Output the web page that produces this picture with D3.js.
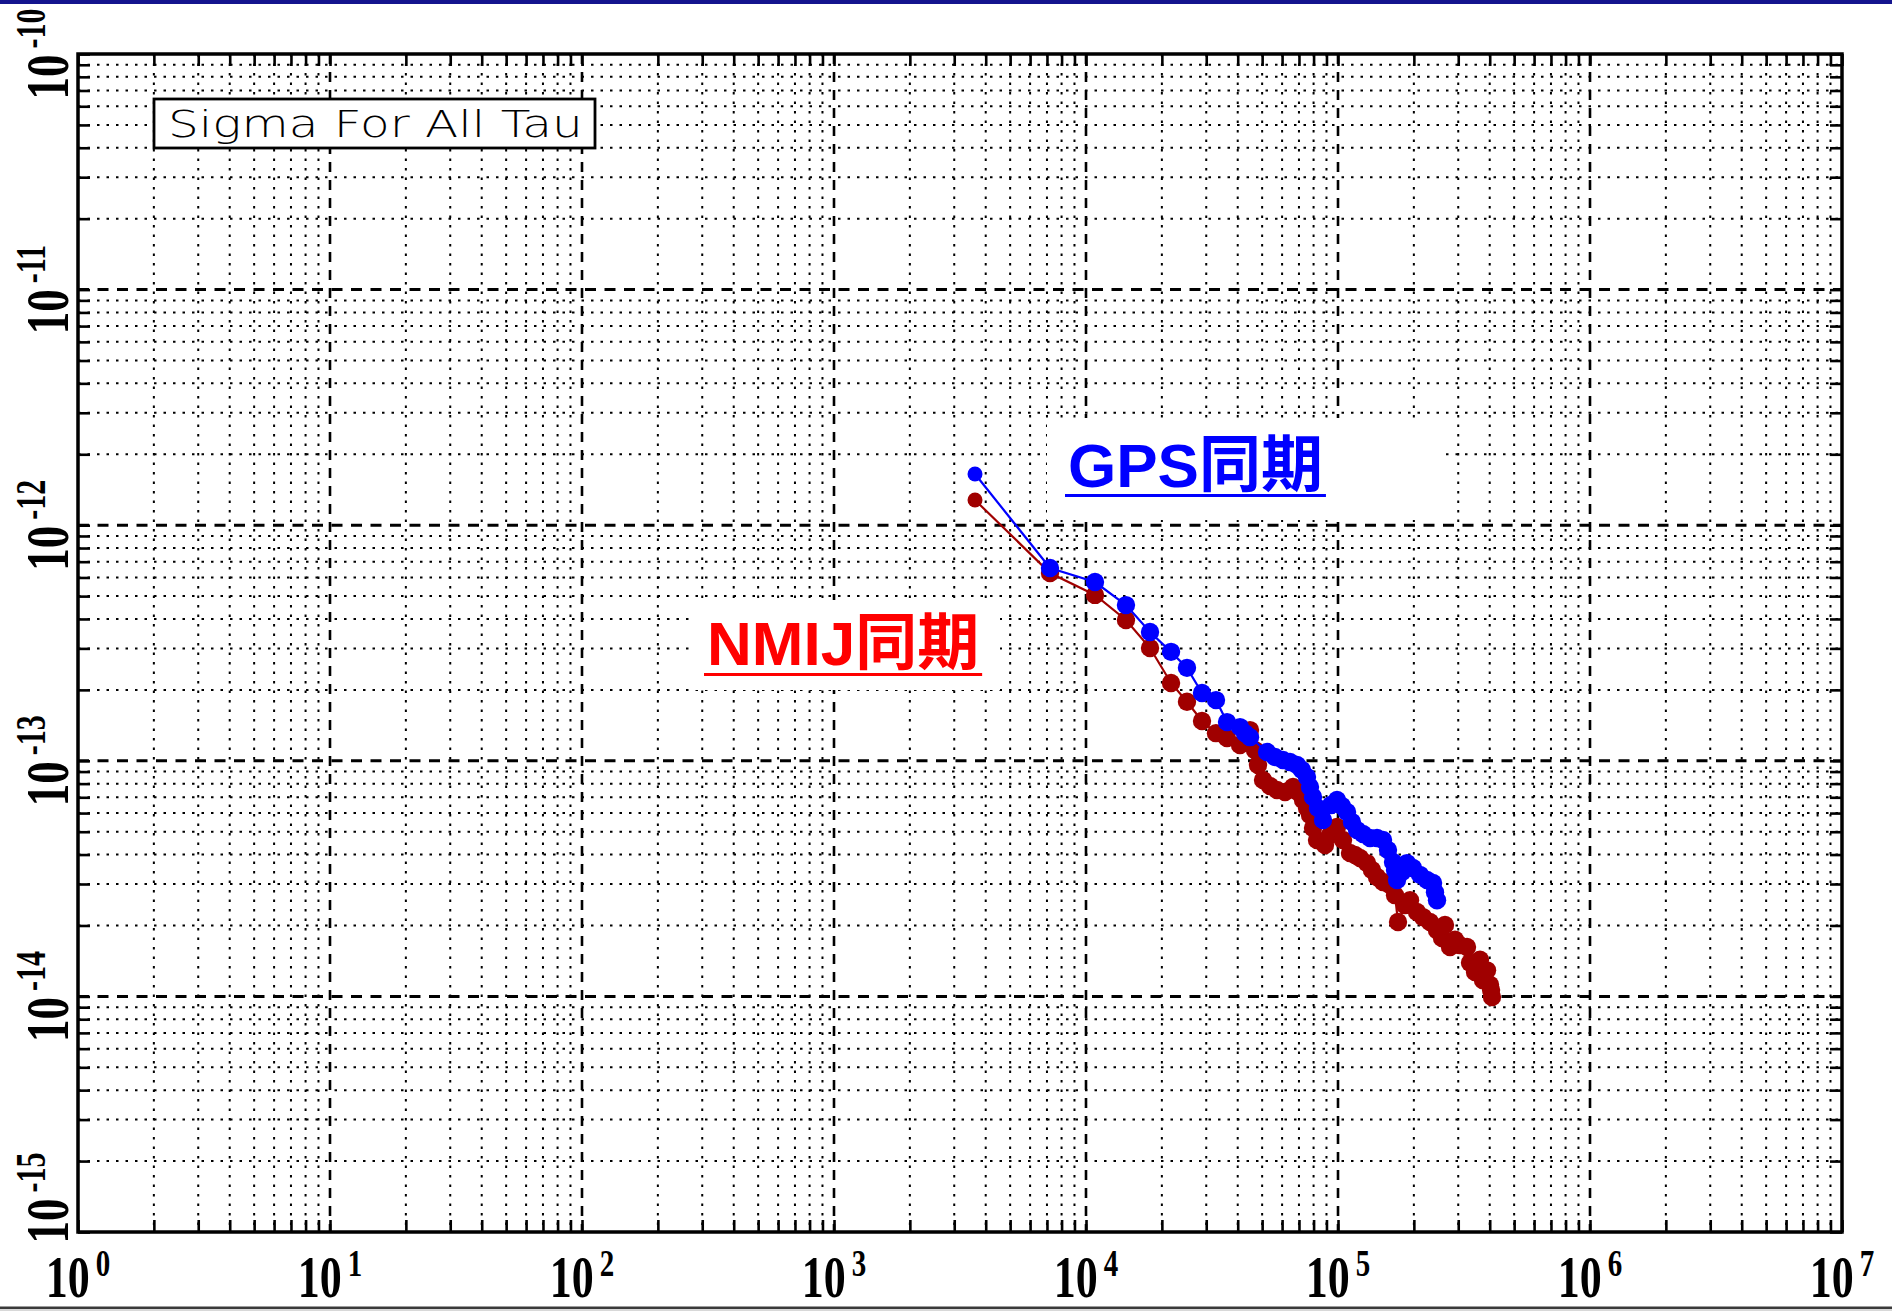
<!DOCTYPE html>
<html><head><meta charset="utf-8">
<script src="https://cdn.jsdelivr.net/npm/d3@7"></script>
<style>html,body{margin:0;padding:0;background:#fff;overflow:hidden} svg{display:block}</style>
</head><body><svg id="c" width="1892" height="1311"></svg>
<script>
// ---------------- data ----------------
const tauDecades = [0, 1, 2, 3, 4, 5, 6, 7];
const sigmaDecades = [-15, -14, -13, -12, -11, -10];
const minorMultipliers = [2, 3, 4, 5, 6, 7, 8, 9];

const gpsTau = [3627, 7197, 10857, 14408, 17950, 21750, 25160, 28860, 32800, 36270,
  40840, 42760, 44750, 52290, 56230, 60500, 64480, 68770, 71970, 75340,
  77430, 79590, 83280, 87200, 93800, 99100, 103700, 108600, 113600, 119000,
  125700, 134000, 142800, 150900, 157900, 165300, 168400, 171500, 179500, 187800,
  198500, 211500, 225500, 238300, 242600, 247100];
const gpsSigma = [1.65e-12, 6.58e-13, 5.74e-13, 4.58e-13, 3.52e-13, 2.90e-13, 2.48e-13, 1.94e-13, 1.81e-13, 1.46e-13,
  1.39e-13, 1.31e-13, 1.26e-13, 1.09e-13, 1.038e-13, 1.008e-13, 9.88e-14, 9.60e-14, 9.14e-14, 8.53e-14,
  7.74e-14, 7.02e-14, 6.30e-14, 5.61e-14, 6.49e-14, 6.82e-14, 6.43e-14, 6.06e-14, 5.50e-14, 5.08e-14,
  4.89e-14, 4.70e-14, 4.70e-14, 4.61e-14, 4.18e-14, 3.72e-14, 3.44e-14, 3.12e-14, 3.37e-14, 3.68e-14,
  3.51e-14, 3.28e-14, 3.12e-14, 3.03e-14, 2.77e-14, 2.56e-14];

const nmijTau = [3627, 7197, 10857, 14408, 17950, 21750, 25160, 28860, 32800, 36270,
  40840, 44750, 46830, 48140, 50400, 53740, 57280, 61620, 66290, 69390,
  72620, 75340, 77430, 79590, 82540, 88800, 92970, 99100, 104700, 111600,
  116800, 122300, 130300, 136400, 142800, 150900, 160800, 168400, 173000, 184500,
  193100, 205800, 217500, 231800, 247100, 258600, 265800, 278300, 291300, 304900,
  325000, 334100, 349700, 366000, 376200, 390200, 401000, 405000, 408400];
const nmijSigma = [1.279e-12, 6.27e-13, 5.06e-13, 3.96e-13, 3.01e-13, 2.14e-13, 1.78e-13, 1.475e-13, 1.31e-13, 1.25e-13,
  1.167e-13, 1.35e-13, 1.11e-13, 9.60e-14, 8.29e-14, 7.82e-14, 7.52e-14, 7.37e-14, 7.74e-14, 7.37e-14,
  6.82e-14, 6.30e-14, 5.89e-14, 5.19e-14, 4.61e-14, 4.39e-14, 4.84e-14, 5.24e-14, 4.61e-14, 4.06e-14,
  3.98e-14, 3.87e-14, 3.68e-14, 3.44e-14, 3.21e-14, 3.06e-14, 2.97e-14, 2.69e-14, 2.07e-14, 2.44e-14,
  2.56e-14, 2.28e-14, 2.17e-14, 2.07e-14, 1.91e-14, 1.77e-14, 2.01e-14, 1.62e-14, 1.74e-14, 1.65e-14,
  1.62e-14, 1.39e-14, 1.27e-14, 1.43e-14, 1.17e-14, 1.29e-14, 1.12e-14, 1.065e-14, 9.94e-15];

const legendTitle = "Sigma For All Tau";
const gpsLabel = "GPS同期";
const nmijLabel = "NMIJ同期";

// ---------------- layout ----------------
const W = 1892, H = 1311;
const L = 78, R = 1842, T = 54, B = 1232;
const svg = d3.select("#c");
const x = d3.scaleLog().domain([1, 1e7]).range([L, R]);
const y = d3.scaleLog().domain([1e-15, 1e-10]).range([B, T]);

svg.append("rect").attr("width", W).attr("height", H).attr("fill", "#fff");
// top blue band
svg.append("rect").attr("x", 0).attr("y", 0).attr("width", W).attr("height", 4).attr("fill", "#14148e");
// bottom border line
svg.append("rect").attr("x", 0).attr("y", 1306.5).attr("width", W).attr("height", 2.5).attr("fill", "#3a3a3a");
svg.append("rect").attr("x", 0).attr("y", 1309).attr("width", W).attr("height", 2).attr("fill", "#d8d8d8");

const xMinor = [], yMinor = [];
tauDecades.slice(0, -1).forEach(d => minorMultipliers.forEach(m => xMinor.push(m * Math.pow(10, d))));
sigmaDecades.slice(0, -1).forEach(d => minorMultipliers.forEach(m => yMinor.push(m * Math.pow(10, d))));
const xMajor = tauDecades.map(d => Math.pow(10, d));
const yMajor = sigmaDecades.map(d => Math.pow(10, d));

const grid = svg.append("g");
// minor grid (dotted)
grid.selectAll("line.xm").data(xMinor).join("line").attr("class", "xm")
  .attr("x1", d => x(d)).attr("x2", d => x(d)).attr("y1", T).attr("y2", B)
  .attr("stroke", "#000").attr("stroke-width", 2).attr("stroke-dasharray", "2.5 7");
grid.selectAll("line.ym").data(yMinor).join("line").attr("class", "ym")
  .attr("y1", d => y(d)).attr("y2", d => y(d)).attr("x1", L).attr("x2", R)
  .attr("stroke", "#000").attr("stroke-width", 2).attr("stroke-dasharray", "2.5 7");
// major grid (dashed)
grid.selectAll("line.xM").data(xMajor.slice(1, -1)).join("line").attr("class", "xM")
  .attr("x1", d => x(d)).attr("x2", d => x(d)).attr("y1", T).attr("y2", B)
  .attr("stroke", "#000").attr("stroke-width", 2.6).attr("stroke-dasharray", "10 8");
grid.selectAll("line.yM").data(yMajor.slice(1, -1)).join("line").attr("class", "yM")
  .attr("y1", d => y(d)).attr("y2", d => y(d)).attr("x1", L).attr("x2", R)
  .attr("stroke", "#000").attr("stroke-width", 3).attr("stroke-dasharray", "11 8.5");

// white backing boxes behind the annotations
svg.append("rect").attr("x", 1047).attr("y", 418).attr("width", 395).attr("height", 102).attr("fill", "#fff");
svg.append("rect").attr("x", 690).attr("y", 600).attr("width", 310).attr("height", 90).attr("fill", "#fff");

// axes ticks (inward) using d3 axes
const allX = xMajor.concat(xMinor), allY = yMajor.concat(yMinor);
function styleAxis(g) {
  g.select(".domain").remove();
  g.selectAll(".tick line").attr("stroke", "#000").attr("stroke-width", 2.6);
  g.selectAll(".tick text").remove();
}
svg.append("g").attr("transform", `translate(0,${B})`)
  .call(d3.axisBottom(x).tickValues(allX).tickSize(-12).tickFormat("")).call(styleAxis);
svg.append("g").attr("transform", `translate(0,${T})`)
  .call(d3.axisTop(x).tickValues(allX).tickSize(-12).tickFormat("")).call(styleAxis);
svg.append("g").attr("transform", `translate(${L},0)`)
  .call(d3.axisLeft(y).tickValues(allY).tickSize(-12).tickFormat("")).call(styleAxis);
svg.append("g").attr("transform", `translate(${R},0)`)
  .call(d3.axisRight(y).tickValues(allY).tickSize(-12).tickFormat("")).call(styleAxis);

// frame
svg.append("rect").attr("x", L).attr("y", T).attr("width", R - L).attr("height", B - T)
  .attr("fill", "none").attr("stroke", "#000").attr("stroke-width", 3.5);

// legend box
svg.append("rect").attr("x", 154).attr("y", 99).attr("width", 441).attr("height", 49)
  .attr("fill", "#fff").attr("stroke", "#000").attr("stroke-width", 2.8);
const lt = svg.append("text").text(legendTitle)
  .attr("font-family", "'DejaVu Sans', sans-serif").attr("font-weight", 200)
  .attr("font-size", 38).attr("fill", "#000");
const ltw = lt.node().getComputedTextLength();
lt.attr("transform", `translate(168,137) scale(${415 / ltw},1)`);

// tick labels
const serif = "'Liberation Serif', 'Times New Roman', serif";
tauDecades.forEach(d => {
  const t = svg.append("text")
    .attr("transform", `translate(${x(Math.pow(10, d))},1297) scale(1,1.33)`)
    .attr("text-anchor", "middle").attr("font-family", serif).attr("font-weight", "bold").attr("fill", "#000");
  t.append("tspan").attr("font-size", 44).text("10");
  t.append("tspan").attr("font-size", 29).attr("dx", 6).attr("dy", -15.5).text(String(d));
});
sigmaDecades.forEach(d => {
  const yc = Math.min(y(Math.pow(10, d)), 1198);
  const t = svg.append("text")
    .attr("transform", `translate(68,${yc}) rotate(-90) scale(1,1.38)`)
    .attr("text-anchor", "middle").attr("font-family", serif).attr("font-weight", "bold").attr("fill", "#000");
  t.append("tspan").attr("font-size", 45).text("10");
  t.append("tspan").attr("font-size", 30).attr("dx", 6).attr("dy", -16.5).text("-" + String(-d));
});

// data series
const line = d3.line().x(d => x(d[0])).y(d => y(d[1]));
function drawSeries(taus, sigmas, color) {
  const pts = taus.map((t, i) => [t, sigmas[i]]);
  const g = svg.append("g");
  g.append("path").datum(pts).attr("d", line).attr("fill", "none").attr("stroke", color).attr("stroke-width", 2.2);
  g.selectAll("circle").data(pts).join("circle")
    .attr("cx", d => x(d[0])).attr("cy", d => y(d[1])).attr("r", (d, i) => i === 0 ? 7.5 : 9.2).attr("fill", color);
}
drawSeries(nmijTau, nmijSigma, "#a00000");
drawSeries(gpsTau, gpsSigma, "#0000ff");

// annotations
const sans = "'Liberation Sans', Arial, 'Noto Sans CJK JP', sans-serif";
function annot(label, x0, base, color, uy) {
  const t = svg.append("text").attr("x", x0).attr("y", base).text(label)
    .attr("font-family", sans).attr("font-weight", "bold").attr("font-size", 62).attr("fill", color);
  const w = t.node().getComputedTextLength();
  svg.append("rect").attr("x", x0 - 3).attr("y", uy).attr("width", w + 6).attr("height", 3).attr("fill", color);
}
annot(gpsLabel, 1068, 487, "#0000ff", 494);
annot(nmijLabel, 707, 665, "#ff0000", 673);
</script></body></html>
